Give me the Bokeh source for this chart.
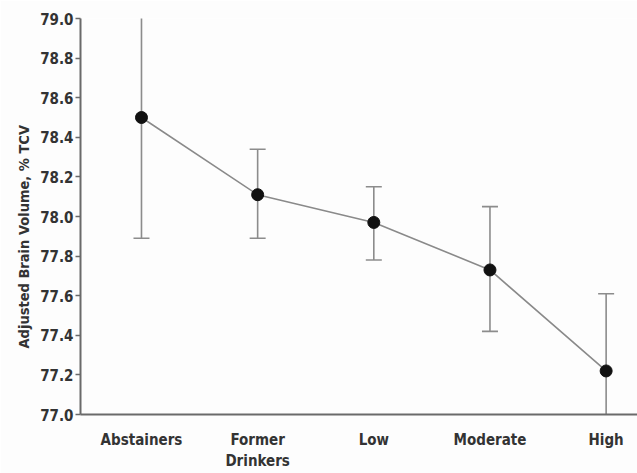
from bokeh.plotting import figure
from bokeh.models import (Range1d, FixedTicker, Whisker, ColumnDataSource,
                          CustomJSTickFormatter, Title)
from bokeh.embed import file_html
from bokeh.resources import INLINE

# Alcohol consumption groups and adjusted brain volume (% of total cranial volume)
groups = ["Abstainers", "Former\nDrinkers", "Low", "Moderate", "High"]
means = [78.50, 78.11, 77.97, 77.73, 77.22]
upper = [79.11, 78.34, 78.15, 78.05, 77.61]
lower = [77.89, 77.89, 77.78, 77.42, 76.83]
y_ticks = [77.0, 77.2, 77.4, 77.6, 77.8, 78.0, 78.2, 78.4, 78.6, 78.8, 79.0]
y_title = "Adjusted Brain Volume, % TCV"

xs = list(range(len(groups)))
src = ColumnDataSource(dict(x=xs, mean=means, upper=upper, lower=lower))

FONT = "'DejaVu Sans Condensed', 'Roboto', sans-serif"

p = figure(width=637, height=473, output_backend="svg", toolbar_location=None,
           x_range=Range1d(-0.525, 4.27), y_range=Range1d(77.0, 79.0),
           min_border_left=80, min_border_right=0, min_border_top=18,
           min_border_bottom=58)
p.outline_line_color = None
p.background_fill_color = "#fdfdfd"
p.border_fill_color = "#fdfdfd"
p.grid.grid_line_color = None

# error bars
w = Whisker(source=src, base="x", upper="upper", lower="lower",
            line_color="#8c8c8c", line_width=1.6)
for head in (w.upper_head, w.lower_head):
    head.size = 16
    head.line_color = "#8c8c8c"
    head.line_width = 1.6
p.add_layout(w)

p.line("x", "mean", source=src, line_color="#8a8a8a", line_width=1.6)
p.scatter("x", "mean", source=src, size=12, fill_color="#111111",
          line_color="#111111")

# axes
p.yaxis.ticker = FixedTicker(ticks=y_ticks)
p.yaxis.formatter = CustomJSTickFormatter(code="return tick.toFixed(1);")
p.xaxis.ticker = FixedTicker(ticks=xs)
p.xaxis.major_label_overrides = {i: g for i, g in enumerate(groups)}

for ax in (p.xaxis, p.yaxis):
    ax.axis_line_color = "#6a6a6a"
    ax.axis_line_width = 2
    ax.major_label_text_font = FONT
    ax.major_label_text_font_size = "15px"
    ax.major_label_text_font_style = "bold"
    ax.major_label_text_color = "#333333"
    ax.minor_tick_line_color = None

p.yaxis.major_tick_line_color = "#6a6a6a"
p.yaxis.major_tick_line_width = 1.5
p.yaxis.major_tick_out = 5
p.yaxis.major_tick_in = 0
p.yaxis.major_label_standoff = 2
p.xaxis.major_tick_line_color = None
p.xaxis.major_label_standoff = 10

# vertical axis title, starting a little above the bottom of the frame
p.add_layout(Title(text=y_title, align="left", offset=66,
                   text_font=FONT, text_font_size="14.5px",
                   text_font_style="bold", text_color="#333333",
                   standoff=11), "left")

open("out.html", "w").write(file_html(p, INLINE))
